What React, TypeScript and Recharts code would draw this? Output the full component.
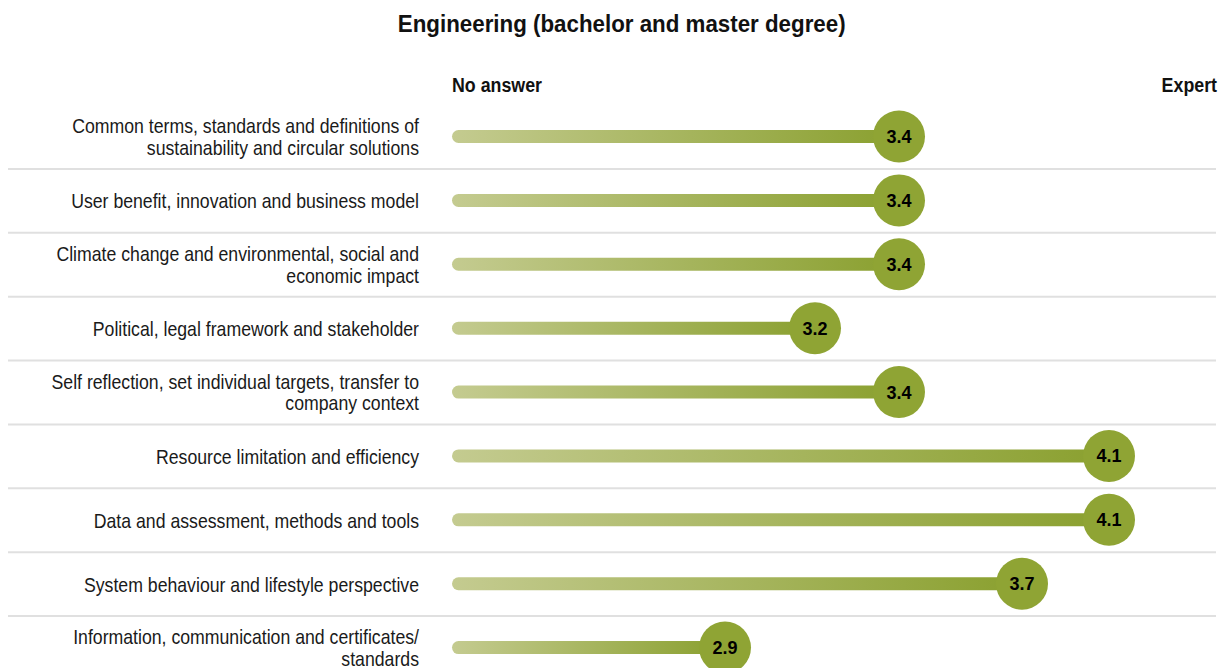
import React from 'react';
import { BarChart, Bar, XAxis, YAxis } from 'recharts';

const FONT = '"Liberation Sans", Arial, Helvetica, sans-serif';

const chartTitle = 'Engineering (bachelor and master degree)';

const categories = [
  'Common terms, standards and definitions of\nsustainability and circular solutions',
  'User benefit, innovation and business model',
  'Climate change and environmental, social and\neconomic impact',
  'Political, legal framework and stakeholder',
  'Self reflection, set individual targets, transfer to\ncompany context',
  'Resource limitation and efficiency',
  'Data and assessment, methods and tools',
  'System behaviour and lifestyle perspective',
  'Information, communication and certificates/\nstandards',
];

const barValues = [3.39, 3.39, 3.39, 3.11, 3.39, 4.09, 4.09, 3.8, 2.81];
const scoreLabels = ['3.4', '3.4', '3.4', '3.2', '3.4', '4.1', '4.1', '3.7', '2.9'];

const scaleMin = 1.9;
const scaleMax = 4.45;
const scaleLabels = ['No answer', 'Expert'];

const data = categories.map((name, i) => ({
  name,
  value: barValues[i],
  label: scoreLabels[i],
}));

// the source uses a condensed face; squeeze a regular one horizontally
const SQUEEZE = 0.842;

function CategoryTick(props: any) {
  const { x, y, payload, index } = props;
  const lines = String(payload.value).split('\n');
  const half = payload.offset ?? 32;
  const firstY = lines.length === 1 ? y + 7.5 : y - 4;
  return (
    <g>
      {index < categories.length - 1 && (
        <line x1={8} x2={1216} y1={y + half} y2={y + half} stroke="#e0e0e0" strokeWidth={2} />
      )}
      <text
        transform={`translate(${x},${firstY}) scale(${SQUEEZE},1)`}
        textAnchor="end"
        fill="#1a1a1a"
        fontSize={21}
        fontFamily={FONT}
      >
        {lines.map((line, i) => (
          <tspan key={i} x={0} dy={i === 0 ? 0 : 22}>
            {line}
          </tspan>
        ))}
      </text>
    </g>
  );
}

function ScaleTick(props: any) {
  const { x, y, payload } = props;
  const isFirst = payload.value === scaleMin;
  return (
    <text
      transform={`translate(${x},${y - 13}) scale(0.89,1)`}
      textAnchor={isFirst ? 'start' : 'end'}
      fill="#111"
      fontSize={20}
      fontWeight={700}
      fontFamily={FONT}
    >
      {isFirst ? scaleLabels[0] : scaleLabels[1]}
    </text>
  );
}

function LollipopBar(props: any) {
  const { x, y, width, height, index, payload } = props;
  const gid = `barGrad${index}`;
  const cx = x + width;
  const cy = y + height / 2;
  return (
    <g>
      <defs>
        <linearGradient id={gid} x1="0" y1="0" x2="1" y2="0">
          <stop offset="0%" stopColor="#c4cb90" />
          <stop offset="100%" stopColor="#8aa02f" />
        </linearGradient>
      </defs>
      <rect x={x} y={y} width={width} height={height} rx={height / 2} fill={`url(#${gid})`} />
      <circle cx={cx} cy={cy} r={26} fill="#8fa434" />
      <text
        x={cx}
        y={cy}
        dy={6.5}
        textAnchor="middle"
        fill="#000"
        fontSize={18}
        fontWeight={700}
        fontFamily={FONT}
      >
        {payload.label}
      </text>
    </g>
  );
}

export default function App() {
  return (
    <div style={{ position: 'absolute', left: 0, top: 0, width: 1232, height: 668, overflow: 'hidden', background: '#fff' }}>
      <div
        style={{
          position: 'absolute',
          left: 0,
          top: 9,
          width: 1244,
          textAlign: 'center',
          fontFamily: FONT,
          fontWeight: 700,
          fontSize: 24,
          color: '#111',
          lineHeight: '30px',
        }}
      >
        <span style={{ display: 'inline-block', transform: 'scaleX(0.93)' }}>{chartTitle}</span>
      </div>
      <BarChart
        width={1232}
        height={680}
        data={data}
        layout="vertical"
        margin={{ top: 75, right: 15, bottom: 0, left: 0 }}
        style={{ position: 'absolute', left: 0, top: 0 }}
      >
        <XAxis
          type="number"
          orientation="top"
          domain={[scaleMin, scaleMax]}
          ticks={[scaleMin, scaleMax]}
          interval={0}
          height={30}
          axisLine={false}
          tickLine={false}
          tickSize={0}
          tickMargin={0}
          tick={<ScaleTick />}
        />
        <YAxis
          type="category"
          dataKey="name"
          width={452}
          interval={0}
          axisLine={false}
          tickLine={false}
          tickSize={0}
          tickMargin={33}
          tick={<CategoryTick />}
        />
        <Bar dataKey="value" barSize={13} isAnimationActive={false} shape={<LollipopBar />} />
      </BarChart>
    </div>
  );
}
